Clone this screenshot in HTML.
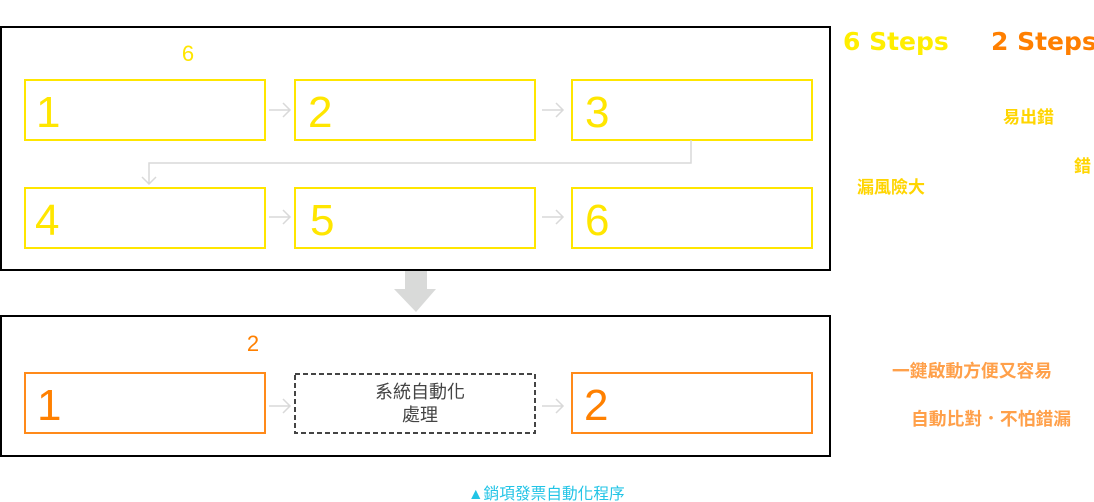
<!DOCTYPE html>
<html><head><meta charset="utf-8"><style>
html,body{margin:0;padding:0;background:#fff;width:1094px;height:502px;overflow:hidden}
svg{display:block}
text{font-family:"Liberation Sans","Noto Sans CJK TC",sans-serif}
</style></head><body>
<svg width="1094" height="502" viewBox="0 0 1094 502">
<rect x="1" y="27" width="829" height="243" fill="none" stroke="#000" stroke-width="2"/>
<text x="188" y="61" font-size="22" fill="#ffe600" text-anchor="middle">6</text>
<g fill="none" stroke="#ffe600" stroke-width="2">
<rect x="25" y="80" width="240" height="60"/>
<rect x="295" y="80" width="240" height="60"/>
<rect x="572" y="80" width="240" height="60"/>
<rect x="25" y="188" width="240" height="60"/>
<rect x="295" y="188" width="240" height="60"/>
<rect x="572" y="188" width="240" height="60"/>
</g>
<g font-size="44" fill="#ffe600">
<text x="36" y="127">1</text><text x="308" y="127">2</text><text x="585" y="127">3</text>
<text x="35" y="235">4</text><text x="310" y="235">5</text><text x="585" y="235">6</text>
</g>
<g fill="none" stroke="#d9d9d9" stroke-width="1.5">
<path d="M269 110H290M283 103L290 110L283 117"/>
<path d="M542 110H563M556 103L563 110L556 117"/>
<path d="M269 217H290M283 210L290 217L283 224"/>
<path d="M542 217H563M556 210L563 217L556 224"/>
<path d="M691 140V163H149V184M142 177L149 184L156 177"/>
<path d="M269 406H290M283 399L290 406L283 413"/>
<path d="M542 406H563M556 399L563 406L556 413"/>
</g>
<path d="M405 271H427V289H436L416 312L394 289H405Z" fill="#d9dad9"/>
<rect x="1" y="316" width="829" height="140" fill="none" stroke="#000" stroke-width="2"/>
<text x="253" y="351" font-size="22" fill="#ff8000" text-anchor="middle">2</text>
<g fill="none" stroke="#ff8a1a" stroke-width="2">
<rect x="25" y="373" width="240" height="60"/>
<rect x="572" y="373" width="240" height="60"/>
</g>
<rect x="295" y="374" width="240" height="59" fill="none" stroke="#444" stroke-width="2" stroke-dasharray="5,3"/>
<g font-size="44" fill="#ff8000">
<text x="37" y="420">1</text><text x="584" y="420">2</text>
</g>
<g font-size="18" fill="#444" text-anchor="middle">
<text x="420" y="398">系統自動化</text>
<text x="420" y="421">處理</text>
</g>
<text x="843" y="50" font-size="25" font-weight="bold" fill="#ffee00" style="font-family:'DejaVu Sans',sans-serif">6 Steps</text>
<text x="991" y="50" font-size="25" font-weight="bold" fill="#ff7f00" style="font-family:'DejaVu Sans',sans-serif">2 Steps</text>
<g font-size="17" fill="#ffd500" font-weight="bold">
<text x="1003" y="123">易出錯</text>
<text x="1074" y="172">錯</text>
<text x="857" y="193">漏風險大</text>
</g>
<g font-size="17.8" fill="#ffa04a" font-weight="bold">
<text x="892" y="377">一鍵啟動方便又容易</text>
<text x="911" y="425">自動比對．不怕錯漏</text>
</g>
<text x="468" y="499" font-size="15.7" fill="#22c4e6">▲銷項發票自動化程序</text>
</svg>
</body></html>
